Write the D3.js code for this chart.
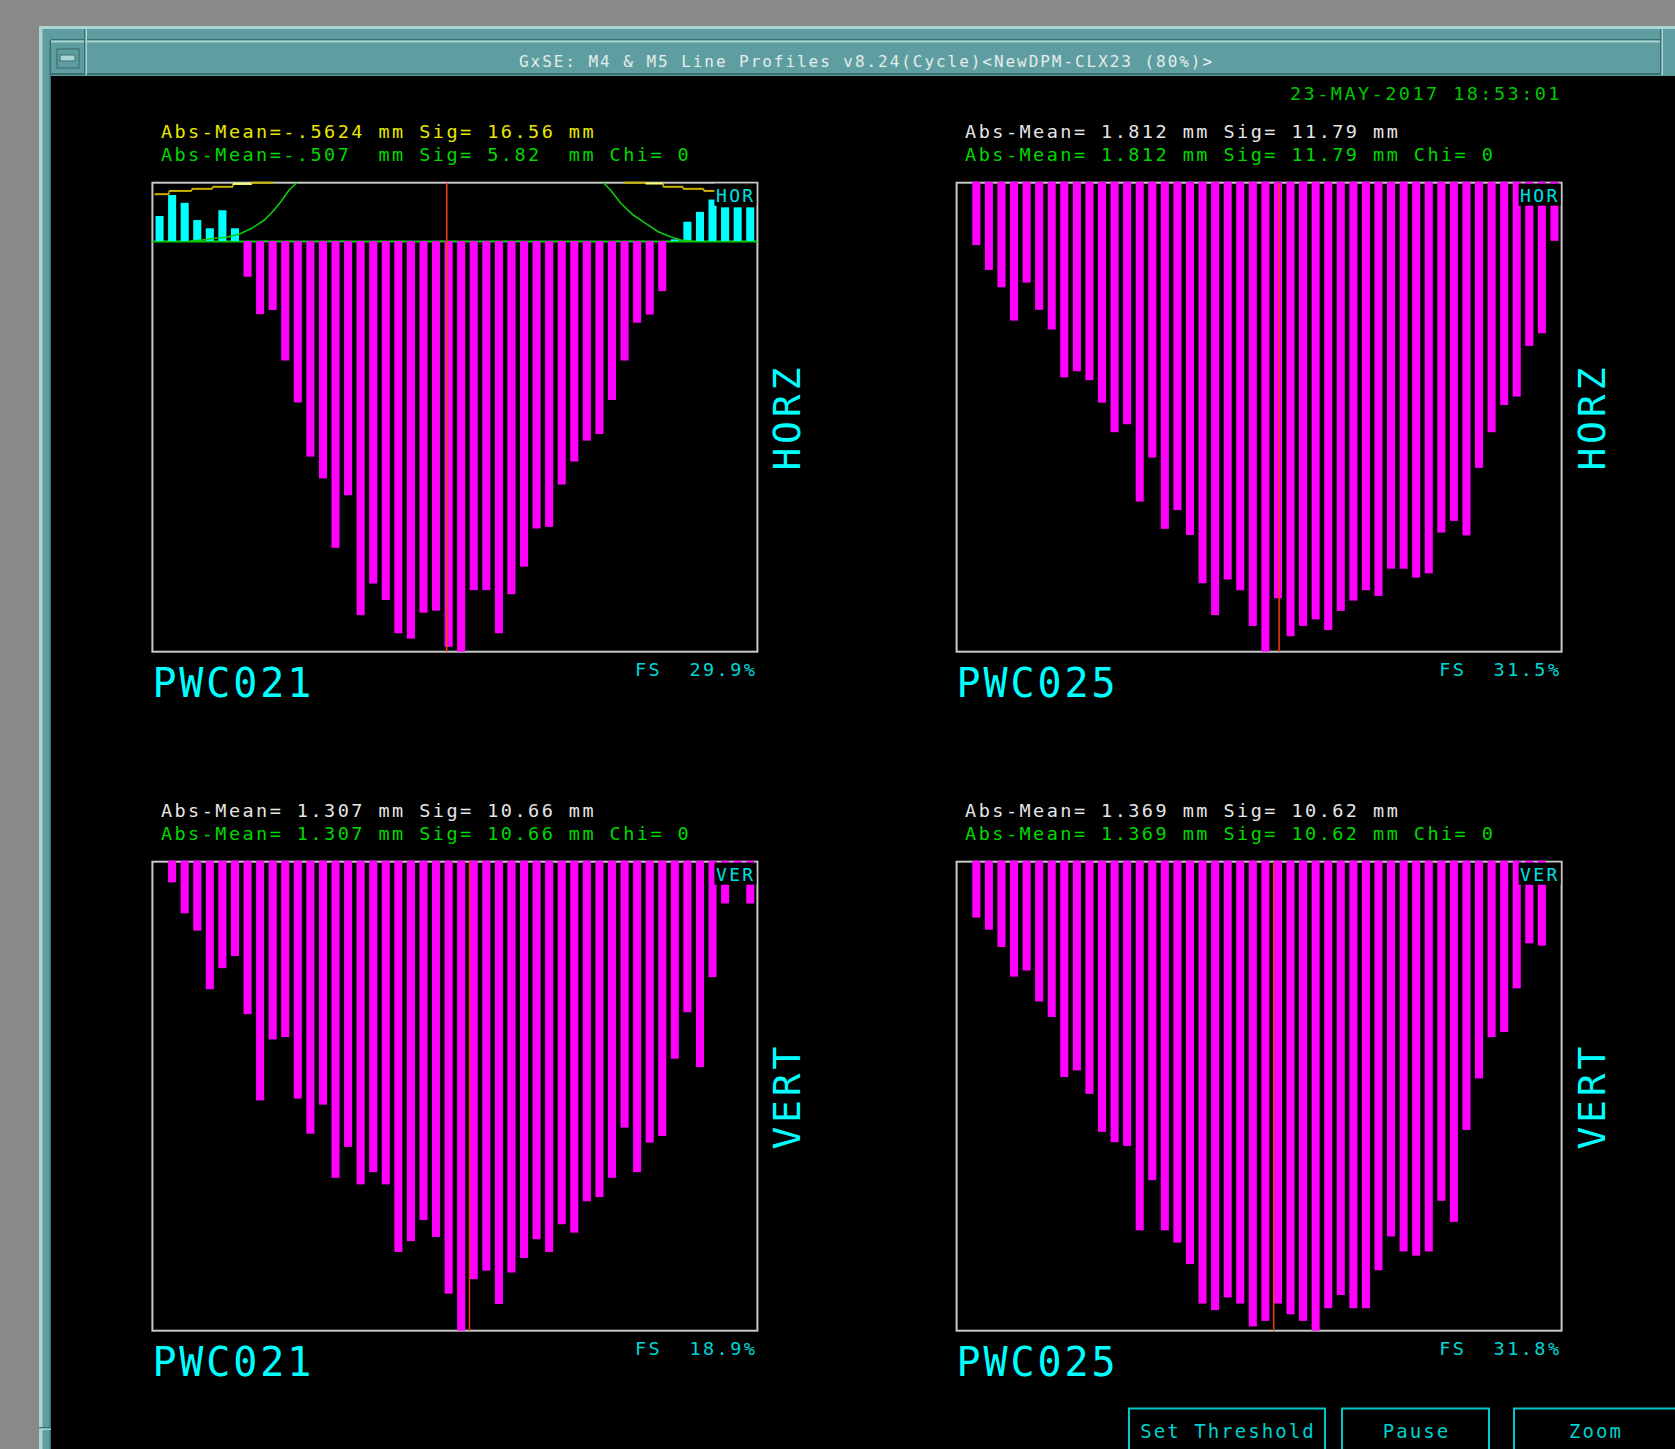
<!DOCTYPE html>
<html>
<head>
<meta charset="utf-8">
<script src="https://cdn.jsdelivr.net/npm/d3@7"></script>
<style>
  body { margin: 0; background: #898989; overflow: hidden; }
  svg { display: block; }
  text { font-family: "DejaVu Sans Mono", monospace; white-space: pre; }
</style>
</head>
<body>
<svg id="screen" width="1675" height="1449"></svg>
<script>
// wire numbers of the chambers, 48 per plane
const wires = d3.range(48);

// profile heights in % of full scale, negative values are drawn upward (cyan)
const pwc021HorzValues = [-6.1, -11.2, -9.3, -5.1, -3.1, -7.5, -3.1, 8.7, 17.8, 16.8, 29.1, 39.3,
  52.5, 57.8, 74.7, 61.9, 91.1, 83.4, 87.4, 95.5, 96.8, 90.5, 90.0, 98.8,
  100, 85.0, 85.0, 95.5, 86.0, 79.3, 70.0, 69.6, 59.3, 53.7, 48.6, 47.0,
  38.7, 29.1, 19.9, 17.9, 12.2, -0.4, -4.7, -7.1, -10.1, -8.2, -8.2, -8.2];
const pwc025HorzValues = [0, 13.3, 18.6, 22.3, 29.4, 21.3, 27.1, 31.3, 41.5, 40.2, 42.1, 46.9,
  53.2, 51.5, 68.0, 58.6, 73.8, 69.8, 75.1, 85.4, 92.2, 84.6, 86.9, 94.5,
  100, 88.6, 96.7, 94.5, 93.1, 95.4, 91.3, 89.1, 86.9, 88.1, 82.3, 82.3,
  84.2, 83.3, 74.6, 72.1, 75.2, 60.8, 53.2, 47.4, 45.6, 34.8, 32.1, 12.4];
const pwc021VertValues = [0, 4.4, 11.0, 14.7, 27.2, 22.7, 20.1, 32.5, 50.9, 37.9, 37.4, 50.5,
  58.0, 51.8, 67.4, 60.8, 68.8, 66.2, 68.8, 83.2, 80.9, 76.4, 80.0, 92.1,
  100, 89.0, 87.2, 94.3, 87.6, 84.5, 80.5, 83.2, 77.3, 79.1, 72.4, 71.5,
  67.4, 56.7, 66.2, 59.9, 58.5, 42.0, 32.1, 43.8, 24.6, 8.9, 3.0, 8.9];
const pwc025VertValues = [0, 11.9, 14.5, 18.2, 24.5, 23.2, 29.8, 33.1, 45.9, 44.5, 49.5, 57.6,
  59.8, 60.6, 78.6, 67.9, 78.6, 81.2, 85.8, 94.2, 95.6, 92.9, 94.2, 99.1,
  97.9, 94.2, 96.5, 97.9, 100, 95.2, 92.4, 95.2, 95.2, 87.1, 79.9, 83.1,
  84.0, 83.1, 72.3, 76.8, 57.2, 46.2, 37.4, 36.3, 27.0, 17.4, 17.9, 0];

// beam mean position, in wire units
const meanWires = [22.85, 25.09, 24.66, 24.66];

// PWC021 HORZ extra traces (wire, %)
const yellowLeftW = [-0.4, 0.75, 2.56, 4.21, 5.84, 7.35, 9.06];
const yellowLeftV = [-11.4, -12.2, -12.7, -13.2, -13.9, -14.2, -14.2];
const yellowRightW = [36.96, 38.68, 40.07, 41.65, 43.3, 44.6];
const yellowRightV = [-14.2, -14.0, -13.2, -12.7, -12.2, -12.2];
const fitLeftW = [10.91, 10.31, 9.65, 8.99, 8.34, 7.34, 6.36, 5.36, 4.38, 3.39, 2.5];
const fitLeftV = [-14.2, -12.42, -9.57, -7.13, -5.11, -3.09, -1.70, -0.90, -0.66, -0.24, 0];
const fitRightW = [35.31, 35.88, 36.7, 37.69, 38.68, 39.67, 40.66, 41.48, 42.4];
const fitRightV = [-14.2, -12.42, -9.18, -6.33, -4.31, -2.26, -1.05, -0.24, 0];

const detectorNames = ["PWC021", "PWC025", "PWC021", "PWC025"];
const planeNames = ["HORZ", "HORZ", "VERT", "VERT"];
const planeTags = ["HOR", "HOR", "VER", "VER"];
const fullScales = ["FS  29.9%", "FS  31.5%", "FS  18.9%", "FS  31.8%"];
const statLines1 = ["Abs-Mean=-.5624 mm Sig= 16.56 mm", "Abs-Mean= 1.812 mm Sig= 11.79 mm",
  "Abs-Mean= 1.307 mm Sig= 10.66 mm", "Abs-Mean= 1.369 mm Sig= 10.62 mm"];
const statLines2 = ["Abs-Mean=-.507  mm Sig= 5.82  mm Chi= 0", "Abs-Mean= 1.812 mm Sig= 11.79 mm Chi= 0",
  "Abs-Mean= 1.307 mm Sig= 10.66 mm Chi= 0", "Abs-Mean= 1.369 mm Sig= 10.62 mm Chi= 0"];
const titleText = "GxSE: M4 & M5 Line Profiles v8.24(Cycle)<NewDPM-CLX23 (80%)>";
const dateText = "23-MAY-2017 18:53:01";
const buttonLabels = ["Set Threshold", "Pause", "Zoom"];

const svg = d3.select("#screen");
const teal = "#5f9ea0", tealLight = "#a9d4d4", tealDark = "#3c6e70";

// ---- window frame
svg.append("rect").attr("x", 39).attr("y", 26).attr("width", 1700).attr("height", 1500).attr("fill", teal);
svg.append("rect").attr("x", 39).attr("y", 26).attr("width", 3.5).attr("height", 1449).attr("fill", tealLight);
svg.append("rect").attr("x", 39).attr("y", 26).attr("width", 1640).attr("height", 3).attr("fill", tealLight);
svg.append("rect").attr("x", 51).attr("y", 39).attr("width", 1610).attr("height", 1.5).attr("fill", tealDark);
svg.append("rect").attr("x", 51).attr("y", 40.5).attr("width", 1610).attr("height", 2).attr("fill", tealLight);
svg.append("rect").attr("x", 51).attr("y", 73).attr("width", 1610).attr("height", 2).attr("fill", tealDark);
[84, 1660].forEach(sx => {
  svg.append("rect").attr("x", sx).attr("y", 29).attr("width", 1.5).attr("height", 46).attr("fill", tealDark);
  svg.append("rect").attr("x", sx + 1.5).attr("y", 29).attr("width", 1.5).attr("height", 46).attr("fill", tealLight);
});
svg.append("rect").attr("x", 49.5).attr("y", 40).attr("width", 1.5).attr("height", 1409).attr("fill", tealDark);
svg.append("rect").attr("x", 39).attr("y", 1427).attr("width", 12).attr("height", 1.5).attr("fill", tealDark);
svg.append("rect").attr("x", 39).attr("y", 1428.5).attr("width", 12).attr("height", 1.5).attr("fill", tealLight);
// menu button
svg.append("rect").attr("x", 57).attr("y", 49).attr("width", 22).attr("height", 19)
  .attr("fill", "none").attr("stroke", tealDark).attr("stroke-width", 1.2);
svg.append("rect").attr("x", 60).attr("y", 55).attr("width", 15).attr("height", 6)
  .attr("fill", tealLight).attr("stroke", tealDark).attr("stroke-width", 1);
svg.append("text").attr("x", 519).attr("y", 67).attr("fill", "#e4ecec")
  .style("font-size", "16px").style("letter-spacing", "1.95px").text(titleText);

// screen
svg.append("rect").attr("x", 51).attr("y", 76).attr("width", 1630).attr("height", 1380).attr("fill", "#000");

svg.append("text").attr("x", 1290).attr("y", 100).attr("fill", "#00c800")
  .style("font-size", "18.5px").style("letter-spacing", "2.46px").text(dateText);

// ---- panels
const boxW = 605, boxH = 469;
const panels = [
  {left: 152.4, top: 182.7, values: pwc021HorzValues, lo: -14.2, statColor: "#e8e800"},
  {left: 956.6, top: 182.7, values: pwc025HorzValues, lo: 0, statColor: "#e6e6e6"},
  {left: 152.4, top: 861.7, values: pwc021VertValues, lo: 0, statColor: "#e6e6e6"},
  {left: 956.6, top: 861.7, values: pwc025VertValues, lo: 0, statColor: "#e6e6e6"}
];

panels.forEach((p, k) => {
  const g = svg.append("g");
  const x = d3.scaleBand().domain(wires).range([p.left, p.left + boxW])
    .paddingInner(0.36).paddingOuter(0.25);
  const half = x.bandwidth() / 2;
  const xw = d3.scaleLinear().domain([0, 47]).range([x(0) + half, x(47) + half]);
  const y = d3.scaleLinear().domain([p.lo, 100]).range([p.top, p.top + boxH]);

  g.append("rect").attr("x", p.left).attr("y", p.top).attr("width", boxW).attr("height", boxH)
    .attr("fill", "none").attr("stroke", "#c8c8c8").attr("stroke-width", 2);

  if (p.lo < 0) {
    g.append("line").attr("x1", p.left).attr("x2", p.left + boxW)
      .attr("y1", y(0) + 0.5).attr("y2", y(0) + 0.5)
      .attr("stroke", "#00d000").attr("stroke-width", 2);
  }

  const bars = p.values.map((v, i) => ({i, v})).filter(d => d.v !== 0);
  g.selectAll("rect.bar").data(bars).join("rect")
    .attr("class", "bar")
    .attr("x", d => x(d.i))
    .attr("width", x.bandwidth())
    .attr("y", d => d.v > 0 ? y(0) - (p.lo === 0 ? 1 : 0) : y(d.v))
    .attr("height", d => Math.abs(y(d.v) - y(0)) + (d.v > 0 && p.lo === 0 ? 1 : 0))
    .attr("fill", d => d.v > 0 ? "#ff00ff" : "#00ffff");

  if (p.lo < 0) {
    const step = (ws, vs, bright) => {
      for (let j = 0; j < ws.length - 1; j++) {
        g.append("line").attr("x1", xw(ws[j])).attr("x2", xw(ws[j + 1]))
          .attr("y1", y(vs[j])).attr("y2", y(vs[j]))
          .attr("stroke", j === bright ? "#ffff70" : "#c8b400").attr("stroke-width", 2);
        if (vs[j + 1] !== vs[j]) {
          g.append("line").attr("x1", xw(ws[j + 1])).attr("x2", xw(ws[j + 1]))
            .attr("y1", y(vs[j])).attr("y2", y(vs[j + 1]))
            .attr("stroke", "#c8b400").attr("stroke-width", 1.5);
        }
      }
    };
    step(yellowLeftW, yellowLeftV, 4);
    step(yellowRightW, yellowRightV, 1);

    const fit = d3.line().x(d => xw(d[0])).y(d => y(d[1]));
    [[fitLeftW, fitLeftV], [fitRightW, fitRightV]].forEach(([ws, vs]) => {
      g.append("path").datum(ws.map((w, j) => [w, vs[j]])).attr("d", fit)
        .attr("fill", "none").attr("stroke", "#10c810").attr("stroke-width", 1.6);
    });
  }

  g.append("line").attr("x1", xw(meanWires[k])).attr("x2", xw(meanWires[k]))
    .attr("y1", p.top).attr("y2", p.top + boxH)
    .attr("stroke", "#f03c14").attr("stroke-width", 1.5);

  // plane tag in the corner
  g.append("rect").attr("x", p.left + boxW - 43).attr("y", p.top + 1).attr("width", 42).attr("height", 22)
    .attr("fill", "#000");
  g.append("text").attr("x", p.left + boxW - 41.5).attr("y", p.top + 19).attr("fill", "#00e0e0")
    .style("font-size", "18px").style("letter-spacing", "2.4px").text(planeTags[k]);

  g.append("text").attr("x", p.left + 8.5).attr("y", p.top - 44.4).attr("fill", p.statColor)
    .style("font-size", "18.5px").style("letter-spacing", "2.46px").text(statLines1[k]);
  g.append("text").attr("x", p.left + 8.5).attr("y", p.top - 22).attr("fill", "#00d800")
    .style("font-size", "18.5px").style("letter-spacing", "2.46px").text(statLines2[k]);

  g.append("text").attr("x", p.left).attr("y", p.top + boxH + 45.5).attr("fill", "#00ffff")
    .style("font-size", "40px").style("letter-spacing", "2.9px").text(detectorNames[k]);
  g.append("text").attr("x", p.left + boxW - 122.4).attr("y", p.top + boxH + 24.5).attr("fill", "#00d8d8")
    .style("font-size", "18.5px").style("letter-spacing", "2.46px").text(fullScales[k]);

  g.append("text")
    .attr("transform", `translate(${p.left + boxW + 43},${p.top + boxH / 2}) rotate(-90)`)
    .attr("text-anchor", "middle").attr("fill", "#00ffff")
    .style("font-size", "38px").style("letter-spacing", "3.8px").text(planeNames[k]);
});

// ---- buttons
const buttonX = [1129, 1342, 1514];
const buttonW = [196, 147, 162];
buttonLabels.forEach((b, i) => {
  svg.append("rect").attr("x", buttonX[i]).attr("y", 1408.5).attr("width", buttonW[i]).attr("height", 44)
    .attr("fill", "none").attr("stroke", "#00c8c8").attr("stroke-width", 2);
  svg.append("text").attr("x", buttonX[i] + buttonW[i] / 2 + 1).attr("y", 1438)
    .attr("text-anchor", "middle").attr("fill", "#00d0d0")
    .style("font-size", "19px").style("letter-spacing", "2.06px").text(b);
});
</script>
</body>
</html>
